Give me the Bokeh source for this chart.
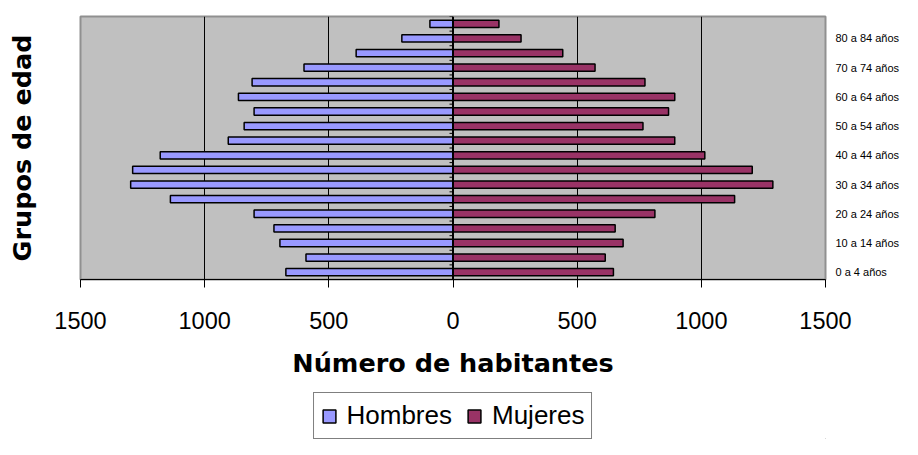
from bokeh.plotting import figure
from bokeh.layouts import column
from bokeh.models import Range1d, LinearAxis, FixedTicker, Span, Legend, LegendItem
from bokeh.embed import file_html
from bokeh.resources import INLINE

grupos = ["0 a 4 años", "5 a 9 años", "10 a 14 años", "15 a 19 años", "20 a 24 años",
          "25 a 29 años", "30 a 34 años", "35 a 39 años", "40 a 44 años", "45 a 49 años",
          "50 a 54 años", "55 a 59 años", "60 a 64 años", "65 a 69 años", "70 a 74 años",
          "75 a 79 años", "80 a 84 años", "85 años y más"]
hombres = [673, 592, 697, 721, 801, 1138, 1298, 1290, 1179, 905, 841, 801, 864, 809, 600, 390, 206, 93]
mujeres = [646, 613, 685, 653, 813, 1134, 1288, 1205, 1014, 893, 765, 868, 893, 773, 572, 442, 274, 185]
x_ticks = [-1500, -1000, -500, 0, 500, 1000, 1500]
etiquetas_visibles = list(range(0, 17, 2))
series = ["Hombres", "Mujeres"]
colores = ["#9999FF", "#993366"]

n = len(grupos)
ypos = list(range(n))

p = figure(width=902, height=390, x_range=Range1d(-1500, 1500), y_range=Range1d(-0.5, n - 0.5),
           output_backend="svg", toolbar_location=None,
           min_border_left=80, min_border_right=74, min_border_top=16, min_border_bottom=111,
           background_fill_color="#C0C0C0", border_fill_color="white")
p.outline_line_color = "#909090"
p.outline_line_width = 2

p.xgrid.ticker = FixedTicker(ticks=[t for t in x_ticks if abs(t) not in (0, 1500)])
p.xgrid.grid_line_color = "black"
p.xgrid.grid_line_width = 1
p.ygrid.visible = False

p.hbar(y=ypos, left=[-v for v in hombres], right=0, height=0.5,
       fill_color=colores[0], line_color="black", line_width=1.5)
p.hbar(y=ypos, left=0, right=mujeres, height=0.5,
       fill_color=colores[1], line_color="black", line_width=1.5)

bounds = [i - 0.5 for i in range(n + 1)]
p.segment(x0=[-14] * len(bounds), x1=[0] * len(bounds), y0=bounds, y1=bounds,
          line_color="black", line_width=1)
p.add_layout(Span(location=0, dimension="height", line_color="black", line_width=2))

# bottom axis
xa = p.xaxis[0]
xa.ticker = FixedTicker(ticks=x_ticks)
xa.major_label_overrides = {t: str(abs(t)) for t in x_ticks}
xa.major_label_text_font = "Liberation Sans"
xa.major_label_text_font_size = "23.5px"
xa.major_label_text_color = "black"
xa.major_tick_out = 8
xa.major_tick_in = 0
xa.major_tick_line_color = "black"
xa.minor_tick_line_color = None
xa.axis_line_color = "black"
xa.major_label_standoff = 24
xa.axis_label = "Número de habitantes"
xa.axis_label_text_font = "DejaVu Sans"
xa.axis_label_text_font_style = "bold"
xa.axis_label_text_font_size = "25.5px"
xa.axis_label_text_color = "black"
xa.axis_label_standoff = 16

# left axis (title only)
ya = p.yaxis[0]
ya.ticker = FixedTicker(ticks=[])
ya.axis_line_color = None
ya.major_tick_line_color = None
ya.minor_tick_line_color = None
ya.major_tick_out = 0
ya.major_tick_in = 0
ya.axis_label = "Grupos de edad"
ya.axis_label_text_font = "DejaVu Sans"
ya.axis_label_text_font_style = "bold"
ya.axis_label_text_font_size = "25.5px"
ya.axis_label_text_color = "black"
ya.axis_label_standoff = 44

# right axis with group labels
ra = LinearAxis(ticker=FixedTicker(ticks=etiquetas_visibles),
                major_label_overrides={i: grupos[i] for i in etiquetas_visibles})
ra.axis_line_color = None
ra.major_tick_line_color = None
ra.minor_tick_line_color = None
ra.major_tick_out = 0
ra.major_tick_in = 0
ra.major_label_standoff = 10
ra.major_label_text_font = "Liberation Sans"
ra.major_label_text_font_size = "11px"
ra.major_label_text_color = "black"
p.add_layout(ra, "right")

# legend strip below (swatch renderers sit far outside the strip's visible range)
pl = figure(width=902, height=49, x_range=Range1d(0, 1), y_range=Range1d(0, 1),
            output_backend="svg", toolbar_location=None, min_border=0,
            background_fill_color="white", border_fill_color="white")
pl.outline_line_color = None
pl.axis.visible = False
pl.grid.visible = False
items = []
for nombre, color in zip(series, colores):
    r = pl.hbar(y=[-100], left=[50], right=[51], height=0.5, fill_color=color,
                line_color="black", line_width=1.5)
    items.append(LegendItem(label=nombre, renderers=[r]))

legend = Legend(items=items, orientation="horizontal", location="top_center",
                label_text_font="Liberation Sans", label_text_font_size="26px",
                label_text_color="black",
                glyph_width=16, glyph_height=16, label_standoff=10, spacing=14,
                padding=7, margin=2, border_line_color="black", border_line_width=1,
                background_fill_color="white", background_fill_alpha=1)
pl.add_layout(legend)

open("out.html", "w").write(file_html(column(p, pl, spacing=0), INLINE))
